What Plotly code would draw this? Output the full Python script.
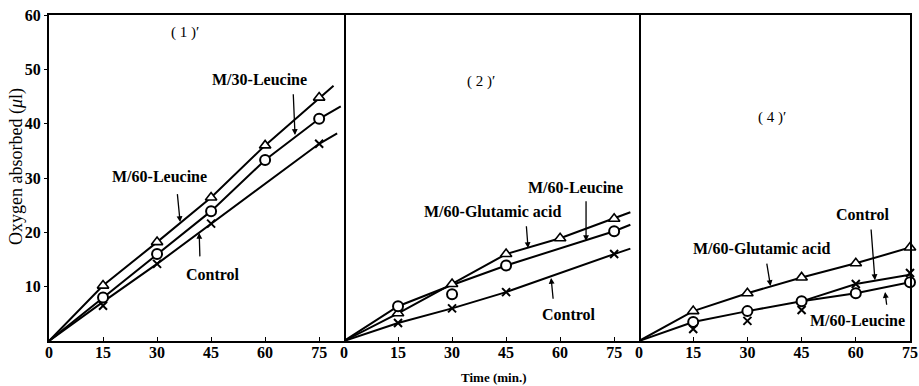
import plotly.graph_objects as go

# ---------------- data ----------------
time_ticks = [0, 15, 30, 45, 60, 75]
y_ticks = [10, 20, 30, 40, 50, 60]

# Panel (1)'
p1_tri_x = [15, 30, 45, 60, 75]
p1_tri_y = [10.2, 18.2, 26.4, 36.0, 44.8]
p1_cir_x = [15, 30, 45, 60, 75]
p1_cir_y = [8.0, 16.0, 23.9, 33.3, 40.9]
p1_crs_x = [15, 30, 45, 75]
p1_crs_y = [6.5, 14.2, 21.6, 36.3]
p1_tri_line_x = [0, 15, 30, 45, 60, 75, 79]
p1_tri_line_y = [0, 10.2, 18.2, 26.4, 36.0, 44.8, 47.0]
p1_cir_line_x = [0, 15, 30, 45, 60, 75, 81]
p1_cir_line_y = [0, 8.0, 16.0, 23.9, 33.3, 40.9, 43.2]
p1_crs_line_x = [0, 15, 30, 45, 75, 80]
p1_crs_line_y = [0, 7.2, 14.2, 21.6, 36.3, 38.2]

# Panel (2)'
p2_tri_x = [15, 30, 45, 60, 75]
p2_tri_y = [5.1, 10.5, 16.0, 18.9, 22.5]
p2_cir_x = [15, 30, 45, 75]
p2_cir_y = [6.4, 8.6, 13.9, 20.2]
p2_crs_x = [15, 30, 45, 75]
p2_crs_y = [3.3, 6.0, 9.0, 16.0]
p2_tri_line_x = [0, 15, 30, 45, 60, 75, 79.5]
p2_tri_line_y = [0, 5.1, 10.5, 16.0, 18.9, 22.5, 23.7]
p2_cir_line_x = [0, 15, 30, 45, 75, 79.5]
p2_cir_line_y = [0, 6.4, 10.3, 13.9, 20.2, 21.4]
p2_crs_line_x = [0, 15, 30, 45, 75, 79.5]
p2_crs_line_y = [0, 3.3, 6.0, 9.0, 16.0, 17.0]

# Panel (4)'
p3_tri_x = [15, 30, 45, 60, 75]
p3_tri_y = [5.5, 8.8, 11.7, 14.3, 17.2]
p3_cir_x = [15, 30, 45, 60, 75]
p3_cir_y = [3.5, 5.5, 7.3, 8.8, 10.8]
p3_crs_x = [15, 30, 45, 60, 75]
p3_crs_y = [2.2, 3.7, 5.7, 10.5, 12.5]
p3_tri_line_x = [0, 15, 30, 45, 60, 75]
p3_tri_line_y = [0, 5.5, 8.8, 11.7, 14.3, 17.2]
p3_cir_line_x = [0, 15, 30, 45, 60, 75]
p3_cir_line_y = [0, 3.5, 5.5, 7.3, 8.8, 10.8]
p3_crs_line_x = [45, 60, 75]
p3_crs_line_y = [7.3, 10.5, 12.2]

# ---------------- styling ----------------
SERIF = "Liberation Serif"
LW = 2
fig = go.Figure()

panels = [
    ("x", "y", [(p1_tri_line_x, p1_tri_line_y), (p1_cir_line_x, p1_cir_line_y), (p1_crs_line_x, p1_crs_line_y)],
     [(p1_tri_x, p1_tri_y, "triangle-up"), (p1_cir_x, p1_cir_y, "circle"), (p1_crs_x, p1_crs_y, "x-thin")]),
    ("x2", "y2", [(p2_tri_line_x, p2_tri_line_y), (p2_cir_line_x, p2_cir_line_y), (p2_crs_line_x, p2_crs_line_y)],
     [(p2_tri_x, p2_tri_y, "triangle-up"), (p2_cir_x, p2_cir_y, "circle"), (p2_crs_x, p2_crs_y, "x-thin")]),
    ("x3", "y3", [(p3_tri_line_x, p3_tri_line_y), (p3_cir_line_x, p3_cir_line_y), (p3_crs_line_x, p3_crs_line_y)],
     [(p3_tri_x, p3_tri_y, "triangle-up"), (p3_cir_x, p3_cir_y, "circle"), (p3_crs_x, p3_crs_y, "x-thin")]),
]

for xa, ya, lines, marks in panels:
    for lx, ly in lines:
        fig.add_trace(go.Scatter(x=lx, y=ly, xaxis=xa, yaxis=ya, mode="lines",
                                 line=dict(color="black", width=LW), showlegend=False, hoverinfo="skip"))
    for mx, my, sym in marks:
        if sym == "x-thin":
            mk = dict(symbol=sym, size=8, color="black", line=dict(color="black", width=2))
        elif sym == "circle":
            mk = dict(symbol=sym, size=10, color="white", line=dict(color="black", width=2))
        else:
            mk = dict(symbol=sym, size=10, color="white", line=dict(color="black", width=1.6))
        fig.add_trace(go.Scatter(x=mx, y=my, xaxis=xa, yaxis=ya, mode="markers", cliponaxis=False,
                                 marker=mk, showlegend=False))

tickfont = dict(family=SERIF, size=16, color="black", weight="bold")
common_x = dict(tickmode="array", tickvals=time_ticks, ticktext=[str(t) for t in time_ticks],
                showline=True, linecolor="black", linewidth=LW, mirror=True,
                ticks="inside", ticklen=4, tickcolor="black", tickfont=tickfont,
                ticklabelstandoff=-4, automargin=False,
                showgrid=False, zeroline=False, fixedrange=True)
common_y = dict(range=[0, 60], showline=True, linecolor="black", linewidth=LW,
                showgrid=False, zeroline=False, fixedrange=True, automargin=False)

d1 = 295 / 861
d2 = 590 / 861
fig.update_layout(
    width=919, height=386,
    margin=dict(l=49, r=9, t=15, b=45),
    paper_bgcolor="white", plot_bgcolor="white",
    font=dict(family=SERIF, color="black"),
    xaxis=dict(domain=[0, d1], range=[0, 81.9], anchor="y", **common_x),
    xaxis2=dict(domain=[d1, d2], range=[0, 81.9], anchor="y2", **common_x),
    xaxis3=dict(domain=[d2, 1], range=[0, 75], anchor="y3", **common_x),
    yaxis=dict(anchor="x", tickmode="array", tickvals=y_ticks, ticktext=[str(v) for v in y_ticks],
               ticks="outside", ticklen=3, tickcolor="black", tickfont=tickfont, mirror=True, **common_y),
    yaxis2=dict(anchor="x2", side="right", showticklabels=False, ticks="", mirror=False, **common_y),
    yaxis3=dict(anchor="x3", side="right", showticklabels=False, ticks="", mirror=False, **common_y),
)

ann = []

def text(xr, yr, x, y, t, size=16, bold=True):
    ann.append(dict(xref=xr, yref=yr, x=x, y=y, xanchor="center", yanchor="middle",
                    text=("<b>%s</b>" % t) if bold else t,
                    showarrow=False, font=dict(family=SERIF, size=size, color="black")))

def arrow(xr, yr, tx, ty, hx, hy):
    ann.append(dict(xref=xr, yref=yr, axref=xr, ayref=yr, x=hx, y=hy, ax=tx, ay=ty, text="",
                    showarrow=True, arrowhead=2, arrowsize=0.9, arrowwidth=1.3, arrowcolor="black"))

# panel labels
text("x", "y", 37.8, 56.7, "( 1 )′", size=15, bold=False)
text("x2", "y2", 38.1, 47.7, "( 2 )′", size=15, bold=False)
text("x3", "y3", 36.9, 41.1, "( 4 )′", size=15, bold=False)

# panel 1
text("x", "y", 58.5, 48.1, "M/30-Leucine")
arrow("x", "y", 67.8, 45.7, 68.3, 37.9)
text("x", "y", 30.8, 30.2, "M/60-Leucine")
arrow("x", "y", 35.6, 27.3, 36.4, 21.9)
text("x", "y", 45.6, 12.3, "Control")
arrow("x", "y", 41.9, 15.3, 41.7, 19.9)

# panel 2
text("x2", "y2", 64.4, 28.2, "M/60-Leucine")
arrow("x2", "y2", 67.2, 26.0, 67.2, 18.4)
text("x2", "y2", 41.1, 23.9, "M/60-Glutamic acid")
arrow("x2", "y2", 50.6, 21.4, 51.1, 17.1)
text("x2", "y2", 62.5, 4.8, "Control")
arrow("x2", "y2", 58.1, 7.5, 57.5, 11.6)

# panel 3
text("x3", "y3", 61.9, 23.2, "Control")
arrow("x3", "y3", 64.2, 20.8, 65.3, 11.2)
text("x3", "y3", 33.9, 17.1, "M/60-Glutamic acid")
arrow("x3", "y3", 35.3, 14.5, 36.4, 10.1)
text("x3", "y3", 60.6, 3.7, "M/60-Leucine")
arrow("x3", "y3", 68.6, 6.4, 68.1, 9.0)

# axis titles
ann.append(dict(xref="paper", yref="paper", x=(493 - 49) / 861, y=(341 - 377) / 326,
                xanchor="center", yanchor="middle",
                text="<b>Time (min.)</b>", showarrow=False,
                font=dict(family=SERIF, size=13, color="black")))
ann.append(dict(xref="paper", yref="paper", x=(16 - 49) / 861, y=(341 - 167) / 326,
                xanchor="center", yanchor="middle",
                text="Oxygen absorbed (<i>μ</i>l)", textangle=-90, showarrow=False,
                font=dict(family=SERIF, size=18, color="black")))

fig.update_layout(annotations=ann)
fig.write_html("out.html", config={"displayModeBar": False},
               post_script="document.body.style.margin='0';document.body.style.overflow='hidden';")
